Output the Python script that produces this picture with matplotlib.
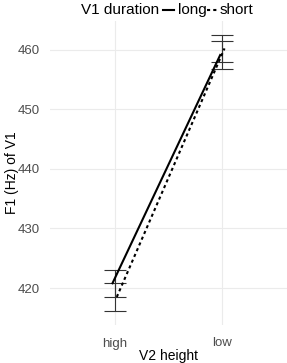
import matplotlib
matplotlib.use("Agg")
import matplotlib.pyplot as plt
from matplotlib.lines import Line2D

plt.rcParams['font.family'] = ['Liberation Sans', 'DejaVu Sans']

heights = ["high", "low"]
long_mean = [420.8, 459.1]
long_err = [2.3, 2.4]
short_mean = [418.5, 460.2]
short_err = [2.35, 2.3]
yticks = [420, 430, 440, 450, 460]

fig = plt.figure(figsize=(2.87, 3.63), dpi=100)
ax = fig.add_axes([50 / 287, 1 - 325 / 363, 237 / 287, 304 / 363])

x = list(range(len(heights)))
dodge = 0.02
xl = [i - dodge for i in x]
xs = [i + dodge for i in x]

ax.plot(xl, long_mean, color="black", lw=1.5, ls="-", zorder=3)
ax.plot(xs, short_mean, color="black", lw=1.5, ls=(0, (1.5, 1.5)), zorder=3)
ax.errorbar(x, long_mean, yerr=long_err, fmt="none", ecolor="#333333",
            elinewidth=0.8, capsize=8, capthick=0.8, zorder=2)
ax.errorbar(x, short_mean, yerr=short_err, fmt="none", ecolor="#333333",
            elinewidth=0.8, capsize=8, capthick=0.8, zorder=2)

ax.set_xlim(-0.6, 1.6)
ax.set_ylim(413.8, 464.8)
ax.set_xticks(x)
ax.set_xticklabels(heights)
ax.set_yticks(yticks)
ax.grid(True, color="#ebebeb", lw=0.8)
ax.set_axisbelow(True)
for s in ax.spines.values():
    s.set_visible(False)
ax.tick_params(length=0, labelsize=9.5, colors="#4d4d4d")
ax.tick_params(axis="x", pad=9)
ax.tick_params(axis="y", pad=7)

ax.set_xlabel("V2 height", fontsize=10, va="top")
ax.set_ylabel("F1 (Hz) of V1", fontsize=10)
ax.xaxis.set_label_coords(0.5, -0.078)
ax.yaxis.set_label_coords(-0.13, 0.5)

# legend on top: title + keys in one row
yk = 1 - 10 / 363
fig.text(159 / 287, yk, "V1 duration", fontsize=11, ha="right", va="center")
fig.add_artist(Line2D([163 / 287, 174 / 287], [yk, yk], color="black", lw=1.5))
fig.text(178 / 287, yk, "long", fontsize=11, ha="left", va="center")
fig.add_artist(Line2D([207 / 287, 218 / 287], [yk, yk], color="black", lw=1.5,
                      ls=(0, (1.5, 1.5))))
fig.text(220 / 287, yk, "short", fontsize=11, ha="left", va="center")

fig.savefig("out.png", dpi=100)
